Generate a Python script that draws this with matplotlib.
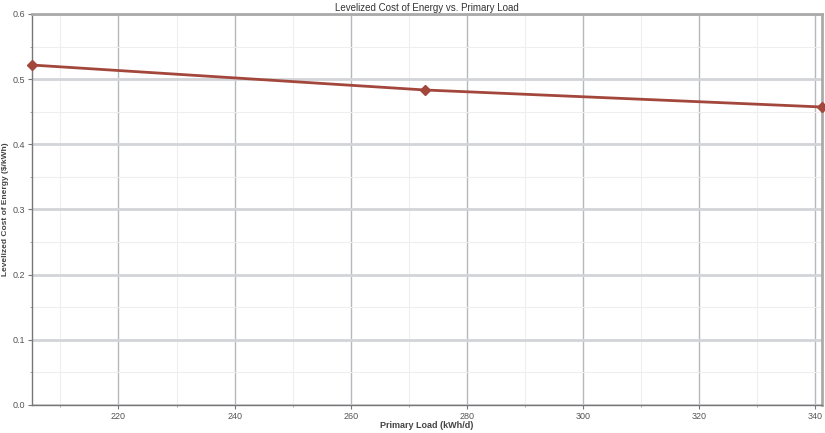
import matplotlib
matplotlib.use("Agg")
import matplotlib.pyplot as plt
from matplotlib.ticker import MultipleLocator

plt.rcParams['font.family'] = ['Liberation Sans', 'DejaVu Sans']

primary_load = [205.1, 272.8, 341.2]
lcoe = [0.5217, 0.4834, 0.4573]

fig = plt.figure(figsize=(8.25, 4.33), dpi=100)
ax = fig.add_axes([32/825, 1-405/433, (822-32)/825, (405-14)/433])

ax.plot(primary_load, lcoe, color='#a3473c', lw=2, marker='D', ms=5,
        clip_on=False, zorder=5)

ax.set_xlim(205.1, 341.2)
ax.set_ylim(0, 0.6)
ax.xaxis.set_major_locator(MultipleLocator(20))
ax.xaxis.set_minor_locator(MultipleLocator(10))
ax.yaxis.set_major_locator(MultipleLocator(0.1))
ax.yaxis.set_minor_locator(MultipleLocator(0.05))
ax.yaxis.set_major_formatter(matplotlib.ticker.FormatStrFormatter('%.1f'))

ax.grid(which='major', axis='x', color='#b4b8bd', lw=1.0)
ax.grid(which='major', axis='y', color='#d2d4d8', lw=2.0)
ax.grid(which='minor', color='#eeeeee', lw=0.8)
ax.set_axisbelow(True)

for s in ['top', 'right']:
    ax.spines[s].set_color('#aaaaaa')
    ax.spines[s].set_linewidth(2)
for s in ['left', 'bottom']:
    ax.spines[s].set_color('#777777')
    ax.spines[s].set_linewidth(1)

ax.tick_params(which='major', length=3, color='#777777', labelsize=6.5,
               labelcolor='#555555', pad=2)
ax.tick_params(which='minor', length=1.5, color='#999999')

ax.set_title('Levelized Cost of Energy vs. Primary Load', fontsize=7,
             color='#333333', pad=2)
ax.set_xlabel('Primary Load (kWh/d)', fontsize=6.5, color='#444444',
              labelpad=0, fontweight='bold')
ax.set_ylabel('Levelized Cost of Energy ($/kWh)', fontsize=6, color='#444444',
              fontweight='bold')
ax.yaxis.set_label_coords((9 - 32) / 790, 0.5)

fig.savefig('out.png', dpi=100)
